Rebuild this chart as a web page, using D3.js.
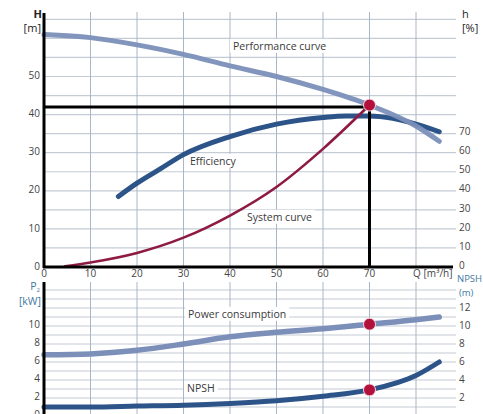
<!DOCTYPE html>
<html><head><meta charset="utf-8">
<script src="https://cdn.jsdelivr.net/npm/d3@7"></script>
<style>body{margin:0;background:#fff}svg{display:block}text{font-family:"Open Sans",sans-serif}</style>
</head><body><svg id="c" width="483" height="414"></svg>
<script>
// ---- data ----
const qTicks = [0,10,20,30,40,50,60,70];
const hTicks = [0,10,20,30,40,50];
const effTicks = [0,10,20,30,40,50,60,70];
const pTicks = [2,4,6,8,10];
const npshTicks = [2,4,6,8,10,12];

const perfQ = [0,10,20,30,40,50,60,70,80,85];
const perfH = [61.0,60.2,58.3,55.8,52.8,50.0,46.6,42.5,37,33];

const effQ = [16,20,25,30,40,50,60,65,70,75,80,85];
const effV = [37,44,51.5,59,68.5,75,78.5,79.3,79.3,78,75,71];

const sysQ = [4.5,10,20,30,40,50,60,70];
const sysH = [0.2,1.2,3.7,7.7,13.5,21,31,42.5];

const powQ = [0,10,20,30,40,50,60,70,80,85];
const powP = [6.8,6.9,7.3,8.0,8.8,9.3,9.7,10.2,10.7,11];

const npshQ = [0,10,20,30,40,50,60,70,80,85];
const npshV = [1.0,1.0,1.1,1.2,1.4,1.7,2.2,2.9,4.5,6];

const dutyQ = 70, dutyH = 42, dutyPointH = 42.5, dutyP = 10.2, dutyN = 2.9;

// ---- scales ----
const svg = d3.select("#c");
const x = d3.scaleLinear().domain([0,80]).range([44,416]);
const yH = d3.scaleLinear().domain([0,67]).range([267,11.7]);
const yE = d3.scaleLinear().domain([0,100]).range([267,76.5]);
const yP = d3.scaleLinear().domain([0,15]).range([416,281]);

const gridV = "#a9b6c6", gridH = "#c4ccd6";
const light = "#7b8fb9", dark = "#2d5488", red = "#8e1a42", dotC = "#b3103c";
const txt = "#3a3a3a";

// grids top
svg.append("g").selectAll("line").data(d3.range(5,66,5)).join("line")
  .attr("x1",44).attr("x2",456).attr("y1",d=>yH(d)).attr("y2",d=>yH(d))
  .attr("stroke",gridH).attr("stroke-width",1.2);
svg.append("g").selectAll("line").data(d3.range(10,81,10)).join("line")
  .attr("x1",d=>x(d)).attr("x2",d=>x(d)).attr("y1",12).attr("y2",267)
  .attr("stroke",gridV).attr("stroke-width",1);
// grids bottom
svg.append("g").selectAll("line").data(d3.range(1,15,1)).join("line")
  .attr("x1",44).attr("x2",456).attr("y1",d=>yP(d)).attr("y2",d=>yP(d))
  .attr("stroke",gridH).attr("stroke-width",1.2);
svg.append("g").selectAll("line").data(d3.range(10,81,10)).join("line")
  .attr("x1",d=>x(d)).attr("x2",d=>x(d)).attr("y1",282).attr("y2",414)
  .attr("stroke",gridV).attr("stroke-width",1);

// labels with white background
function label(t, xx, yy, w){
  const g = svg.append("g");
  const tx = g.append("text").attr("x",xx).attr("y",yy).attr("font-size",10.5)
    .attr("font-family","Lato, sans-serif")
    .attr("fill",txt).attr("dominant-baseline","middle").text(t);
  if (tx.node().getComputedTextLength() > w) tx.attr("textLength",w).attr("lengthAdjust","spacingAndGlyphs");
  const b = tx.node().getBBox();
  g.insert("rect","text").attr("x",b.x-3).attr("y",b.y).attr("width",b.width+6).attr("height",b.height).attr("fill","#fff");
}
label("Performance curve",233,47,97);
label("Efficiency",190,162,47);
label("System curve",247,218,68);
label("Power consumption",188,315,102);
label("NPSH",187,389,33);

const line = (xs,ys,sy)=>d3.line().curve(d3.curveMonotoneX)(xs.map((q,i)=>[x(q),sy(ys[i])]));

// curves
svg.append("path").attr("d",line(effQ,effV,yE)).attr("fill","none").attr("stroke",dark).attr("stroke-width",5).attr("stroke-linecap","round");
svg.append("path").attr("d",line(perfQ,perfH,yH)).attr("fill","none").attr("stroke",light).attr("stroke-width",5).attr("stroke-linecap","round").attr("opacity",0.95);
svg.append("path").attr("d",line(sysQ,sysH,yH)).attr("fill","none").attr("stroke",red).attr("stroke-width",2.6).attr("stroke-linecap","round");
svg.append("path").attr("d",line(powQ,powP,yP)).attr("fill","none").attr("stroke",light).attr("stroke-width",5.5).attr("stroke-linecap","round");
svg.append("path").attr("d",line(npshQ,npshV,yP)).attr("fill","none").attr("stroke",dark).attr("stroke-width",5).attr("stroke-linecap","round");

// duty lines
svg.append("line").attr("x1",x(0)).attr("x2",x(dutyQ)).attr("y1",yH(dutyH)).attr("y2",yH(dutyH)).attr("stroke","#000").attr("stroke-width",3);
svg.append("line").attr("x1",x(dutyQ)).attr("x2",x(dutyQ)).attr("y1",yH(dutyH)).attr("y2",yH(0)).attr("stroke","#000").attr("stroke-width",3);

// axes lines
svg.append("line").attr("x1",44).attr("x2",44).attr("y1",13).attr("y2",268).attr("stroke","#000").attr("stroke-width",3);
svg.append("line").attr("x1",43).attr("x2",453).attr("y1",267).attr("y2",267).attr("stroke","#000").attr("stroke-width",3);
svg.append("line").attr("x1",44).attr("x2",44).attr("y1",282).attr("y2",414).attr("stroke","#000").attr("stroke-width",3);

// dots
[[dutyQ,yH(dutyPointH)],[dutyQ,yP(dutyP)],[dutyQ,yP(dutyN)]].forEach(d=>{
  svg.append("circle").attr("cx",x(d[0])).attr("cy",d[1]).attr("r",6).attr("fill",dotC).attr("stroke","#f3dfe4").attr("stroke-width",1);
});

// tick labels
const tl = (sel)=>sel.attr("font-size",10).attr("fill","#444").attr("dominant-baseline","middle");
svg.append("g").selectAll("text").data(hTicks).join("text").call(tl)
  .attr("x",40).attr("y",d=>yH(d)).attr("text-anchor","end").text(d=>d);
svg.append("g").selectAll("text").data(effTicks).join("text").call(tl)
  .attr("x",459).attr("y",d=>yE(d)-1).attr("text-anchor","start").text(d=>d);
svg.append("g").selectAll("text").data(qTicks).join("text").call(tl)
  .attr("x",d=>x(d)).attr("y",274).attr("text-anchor","middle").text(d=>d);
svg.append("text").call(tl).attr("x",413).attr("y",274).text("Q [m³/h]");
svg.append("g").selectAll("text").data(pTicks.concat([0])).join("text").call(tl)
  .attr("x",40).attr("y",d=>yP(d)-1).attr("text-anchor","end").text(d=>d);
svg.append("g").selectAll("text").data(npshTicks).join("text").call(tl)
  .attr("x",459).attr("y",d=>yP(d)).attr("text-anchor","start").text(d=>d);

// axis titles
const at = (sel)=>sel.attr("font-size",11).attr("dominant-baseline","middle");
svg.append("text").call(at).attr("x",42).attr("y",15).attr("text-anchor","end").attr("fill","#222").attr("font-weight","bold").text("H");
svg.append("text").call(at).attr("x",41).attr("y",29).attr("text-anchor","end").attr("fill","#222").text("[m]");
svg.append("text").call(at).attr("x",462).attr("y",15).attr("fill","#222").text("h");
svg.append("text").call(at).attr("x",462).attr("y",29).attr("fill","#222").text("[%]");
const p2 = svg.append("text").attr("font-size",10.5).attr("x",40).attr("y",290).attr("text-anchor","end").attr("fill","#3f7aa3");
p2.append("tspan").text("P");
p2.append("tspan").attr("font-size",6).attr("dy",2).text("2");
svg.append("text").attr("font-size",10.5).attr("x",41).attr("y",305).attr("text-anchor","end").attr("fill","#3f7aa3").text("[kW]");
svg.append("text").attr("font-size",9.5).attr("x",457).attr("y",282).attr("fill","#3f7aa3").text("NPSH");
svg.append("text").attr("font-size",9.5).attr("x",459).attr("y",296).attr("fill","#3f7aa3").text("(m)");
</script></body></html>
